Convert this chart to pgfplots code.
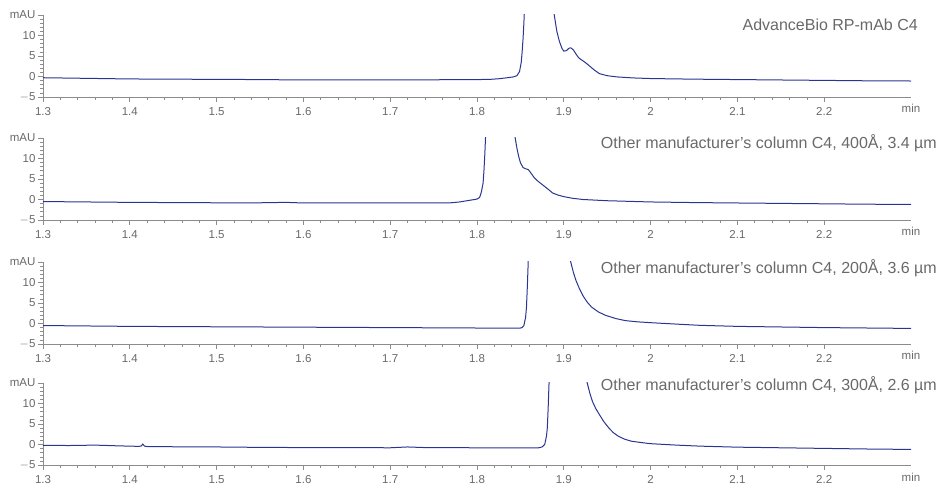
\documentclass[border=0pt]{standalone}
\usepackage{fontspec}
\setmainfont{Liberation Sans}
\usepackage{pgfplots}
\pgfplotsset{compat=1.18}
\definecolor{trace}{RGB}{42,52,145}
\definecolor{axgray}{RGB}{140,140,140}
\definecolor{txtgray}{RGB}{105,105,105}
\tikzset{
  ttl/.style={anchor=east, inner sep=0pt, font=\fontsize{16}{16}\selectfont, text=txtgray},
  minl/.style={anchor=base, inner sep=0pt, font=\fontsize{11.5}{11.5}\selectfont, text=txtgray},
}
\pgfplotsset{
  panel/.style={
    scale only axis, width=868pt, height=82pt,
    anchor=south west,
    xmin=1.3, xmax=2.3, ymin=-5, ymax=15,
    axis x line*=bottom, axis y line*=left,
    axis line style={axgray,-}, 
    xtick={1.3,1.4,1.5,1.6,1.7,1.8,1.9,2.0,2.1,2.2},
    xticklabels={1.3,1.4,1.5,1.6,1.7,1.8,1.9,2,2.1,2.2},
    ytick={-5,0,5,10,15},
    yticklabels={$-$5,0,5,10,mAU},
    minor x tick num=4, minor y tick num=4,
    tick align=outside,
    major tick length=5pt, minor tick length=3pt,
    tick style={axgray, line width=0.8pt},
    minor tick style={axgray, line width=0.6pt},
    x tick label style={font=\fontsize{11.5}{11.5}\selectfont, text=txtgray, inner sep=0.5pt, yshift=-5.2pt},
    y tick label style={font=\fontsize{11.5}{11.5}\selectfont, text=txtgray, xshift=1pt},
    /pgf/number format/assume math mode=true,
    clip mode=individual,
  },
  tr/.style={trace, line width=1pt, no marks},
}
\begin{document}
\begin{tikzpicture}[x=1pt,y=1pt]
\useasboundingbox (0,0) rectangle (940,485);
% Panel 1
\begin{axis}[panel, at={(43pt,388pt)}]
\addplot[tr] coordinates {(1.30,-0.3) (1.35,-0.45) (1.40,-0.6) (1.45,-0.65) (1.50,-0.7) (1.55,-0.75) (1.60,-0.85) (1.65,-0.8) (1.70,-0.8) (1.75,-0.8) (1.80,-0.75) (1.815,-0.7) (1.825,-0.55) (1.835,-0.3) (1.842,-0.1) (1.846,0.2) (1.849,1.2) (1.851,3.5) (1.852,6) (1.853,9) (1.854,13) (1.855,18) (1.86,60) (1.88,60) (1.885,40) (1.888,18) (1.889,15) (1.892,11) (1.895,8.5) (1.898,6.8) (1.900,6.2) (1.903,6.3) (1.906,6.9) (1.908,7.0) (1.911,6.5) (1.914,5.5) (1.917,4.6) (1.920,4.1) (1.923,3.7) (1.926,3.2) (1.930,2.5) (1.935,1.6) (1.941,0.7) (1.95,0.2) (1.961,-0.1) (1.98,-0.35) (2.0,-0.5) (2.05,-0.65) (2.1,-0.75) (2.15,-0.85) (2.2,-0.95) (2.25,-1.05) (2.3,-1.1)};
\node[ttl] at (rel axis cs:1,1) [yshift=-10pt, xshift=7pt] {AdvanceBio RP-mAb C4};
\node[minl] at (rel axis cs:1,0) [yshift=-16pt] {min};
\end{axis}
% Panel 2
\begin{axis}[panel, at={(43pt,265pt)}]
\addplot[tr] coordinates {(1.30,-0.5) (1.35,-0.6) (1.40,-0.7) (1.45,-0.75) (1.50,-0.8) (1.55,-0.8) (1.58,-0.7) (1.60,-0.85) (1.65,-0.85) (1.70,-0.85) (1.75,-0.85) (1.77,-0.8) (1.78,-0.6) (1.79,-0.25) (1.80,0.1) (1.803,0.5) (1.805,1.8) (1.807,4) (1.808,7) (1.809,11) (1.810,16) (1.815,60) (1.84,60) (1.844,15) (1.846,12.5) (1.848,10.5) (1.850,9.0) (1.853,7.8) (1.856,7.5) (1.859,7.3) (1.862,6.5) (1.866,5.3) (1.870,4.5) (1.876,3.5) (1.882,2.5) (1.887,1.6) (1.893,1.1) (1.900,0.7) (1.91,0.3) (1.922,0.0) (1.95,-0.3) (2.0,-0.6) (2.05,-0.75) (2.1,-0.85) (2.15,-0.95) (2.2,-1.05) (2.25,-1.15) (2.3,-1.2)};
\node[ttl] at (rel axis cs:1,1) [yshift=-5pt, xshift=26pt] {Other manufacturer's column C4, 400Å, 3.4 µm};
\node[minl] at (rel axis cs:1,0) [yshift=-16pt] {min};
\end{axis}
% Panel 3
\begin{axis}[panel, at={(43pt,141pt)}]
\addplot[tr] coordinates {(1.30,-0.5) (1.40,-0.7) (1.50,-0.8) (1.60,-0.9) (1.70,-1.0) (1.80,-1.1) (1.85,-1.1) (1.852,-1.0) (1.854,-0.5) (1.855,0.5) (1.856,1.5) (1.857,4) (1.858,9) (1.859,15) (1.862,60) (1.905,60) (1.908,15) (1.911,12.5) (1.914,10.5) (1.918,8.5) (1.922,6.8) (1.927,5.2) (1.932,4.0) (1.940,2.8) (1.948,2.0) (1.960,1.2) (1.971,0.7) (1.985,0.4) (2.0,0.2) (2.03,-0.15) (2.057,-0.45) (2.1,-0.7) (2.15,-0.85) (2.2,-1.0) (2.25,-1.1) (2.3,-1.2)};
\node[ttl] at (rel axis cs:1,1) [yshift=-6pt, xshift=26pt] {Other manufacturer's column C4, 200Å, 3.6 µm};
\node[minl] at (rel axis cs:1,0) [yshift=-16pt] {min};
\end{axis}
% Panel 4
\begin{axis}[panel, at={(43pt,20pt)}]
\addplot[tr] coordinates {(1.30,-0.2) (1.33,-0.25) (1.36,-0.15) (1.39,-0.35) (1.41,-0.45) (1.413,-0.4) (1.415,0.1) (1.417,-0.4) (1.42,-0.5) (1.45,-0.55) (1.50,-0.6) (1.55,-0.7) (1.60,-0.75) (1.65,-0.75) (1.70,-0.8) (1.72,-0.6) (1.74,-0.75) (1.80,-0.8) (1.85,-0.85) (1.87,-0.85) (1.875,-0.6) (1.878,0) (1.880,2) (1.881,4) (1.882,9) (1.883,15) (1.886,60) (1.925,60) (1.927,15) (1.930,12.5) (1.933,10.5) (1.937,8.7) (1.941,7.3) (1.946,5.6) (1.952,4.0) (1.957,2.9) (1.963,2.0) (1.970,1.3) (1.978,0.8) (1.99,0.45) (2.0,0.2) (2.03,-0.15) (2.057,-0.4) (2.1,-0.65) (2.15,-0.8) (2.2,-0.95) (2.25,-1.1) (2.3,-1.2)};
\node[ttl] at (rel axis cs:1,1) [yshift=-2pt, xshift=26pt] {Other manufacturer's column C4, 300Å, 2.6 µm};
\node[minl] at (rel axis cs:1,0) [yshift=-16pt] {min};
\end{axis}
\end{tikzpicture}
\end{document}
